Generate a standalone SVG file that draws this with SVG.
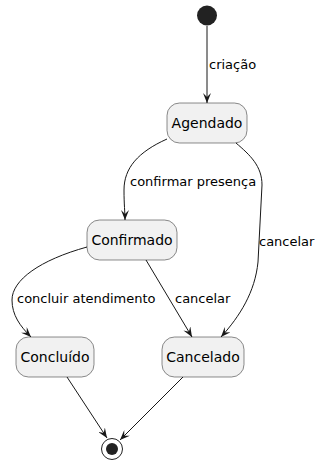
<svg xmlns="http://www.w3.org/2000/svg" width="329" height="473" viewBox="0 0 329 473">
<defs>
<style>
.node rect{fill:#F1F1F1;stroke:#181818;stroke-width:0.5}
.node text{font-family:"DejaVu Sans",sans-serif;font-size:14px;fill:#000;text-anchor:middle}
.edge{fill:none;stroke:#181818;stroke-width:1}
.lbl{font-family:"DejaVu Sans",sans-serif;font-size:13px;fill:#000}
</style>
<marker id="arr" viewBox="0 0 10 8" refX="10" refY="4" markerWidth="10" markerHeight="8" markerUnits="userSpaceOnUse" orient="auto">
<polygon points="0,0 10,4 0,8 4,4" fill="#181818"/>
</marker>
</defs>
<g id="start"><circle cx="207" cy="15.5" r="10" fill="#222222"/></g>
<g id="agendado" class="node"><rect x="167" y="103" width="80" height="40" rx="12.5"/><text x="207" y="128">Agendado</text></g>
<g id="confirmado" class="node"><rect x="87" y="220" width="90" height="40" rx="12.5"/><text x="132" y="245">Confirmado</text></g>
<g id="concluido" class="node"><rect x="16" y="337" width="78" height="40" rx="12.5"/><text x="55" y="362">Concluído</text></g>
<g id="cancelado" class="node"><rect x="162" y="337" width="82" height="40" rx="12.5"/><text x="203" y="362">Cancelado</text></g>
<g id="end"><circle cx="112" cy="449" r="10.5" fill="none" stroke="#222222" stroke-width="1"/><circle cx="112" cy="449" r="6" fill="#222222"/></g>
<g id="connectors">
<path class="edge" d="M207,26 L207,103" marker-end="url(#arr)"/>
<text class="lbl" x="209" y="69">criação</text>
<path class="edge" d="M167,139 C138,152 124,168 124,190 C124,205 125,212 125,220" marker-end="url(#arr)"/>
<text class="lbl" x="130" y="186">confirmar presença</text>
<path class="edge" d="M236,143 C250,155 262,166 262,185 L258,262 C255,292 240,316 221,337" marker-end="url(#arr)"/>
<text class="lbl" x="259" y="246">cancelar</text>
<path class="edge" d="M87,247 C40,260 12,280 12,300 C12,315 20,326 31,337" marker-end="url(#arr)"/>
<text class="lbl" x="17" y="303">concluir atendimento</text>
<path class="edge" d="M146,260 L192,337" marker-end="url(#arr)"/>
<text class="lbl" x="175" y="303">cancelar</text>
<path class="edge" d="M67,377 L107,438" marker-end="url(#arr)"/>
<path class="edge" d="M183,377 L120,440" marker-end="url(#arr)"/>
</g>
</svg>
